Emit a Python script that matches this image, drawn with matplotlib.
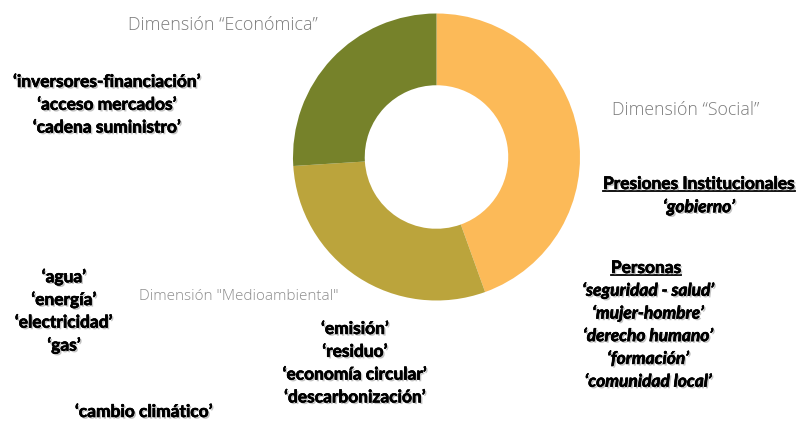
import matplotlib
matplotlib.use("Agg")
import matplotlib.pyplot as plt
import matplotlib.patheffects as pe
from matplotlib.lines import Line2D

# Donut shares (clockwise from 12 o'clock)
dimensions = ["Social", "Medioambiental", "Económica"]
shares = [44.5, 29.5, 26.0]
colors = ["#FCBA58", "#BBA43C", "#76822A"]

# Dimension captions
dim_labels = ["Dimensión “Económica”", "Dimensión “Social”", "Dimensión \"Medioambiental\""]

# Keyword groups
economica = ["‘inversores-financiación’", "‘acceso mercados’", "‘cadena suministro’"]
institucional_title = "Presiones Institucionales"
institucional = ["‘gobierno’"]
personas_title = "Personas"
personas = ["‘seguridad - salud’", "‘mujer-hombre’", "‘derecho humano’",
            "‘formación’", "‘comunidad local’"]
recursos = ["‘agua’", "‘energía’", "‘electricidad’", "‘gas’"]
emisiones = ["‘emisión’", "‘residuo’", "‘economía circular’", "‘descarbonización’"]
clima = ["‘cambio climático’"]

W, H = 800, 423
fig = plt.figure(figsize=(W / 100, H / 100), dpi=100)
ax = fig.add_axes([0, 0, 1, 1])

cx, cy, r = 436.5, H - 157, 143.5
ax.pie(shares, colors=colors, startangle=90, counterclock=False,
       center=(cx, cy), radius=r, wedgeprops=dict(width=r * 0.5, linewidth=0))
ax.set_xlim(0, W)
ax.set_ylim(0, H)
ax.set_aspect("equal")
ax.axis("off")

# soft drop shadow plus a thin stroke to thicken the bold keywords
shadow = [pe.withSimplePatchShadow(offset=(1.2, -1.2), shadow_rgbFace="#888888", alpha=0.5),
          pe.withStroke(linewidth=0.4, foreground="black")]
bold = dict(family="Lato", weight="bold", fontsize=12.5, color="black",
            ha="center", va="center", path_effects=shadow)
gray = dict(family="Open Sans", weight="light", color="#7d7d7d", ha="center", va="center")

def block(lines, x, y0, step=22.8, style="normal"):
    for i, s in enumerate(lines):
        ax.text(x, H - (y0 + i * step), s, style=style, **bold)

def underlined(s, x, y):
    t = ax.text(x, H - y, s, **bold)
    fig.canvas.draw()
    bb = t.get_window_extent().transformed(ax.transData.inverted())
    ax.add_line(Line2D([bb.x0, bb.x1], [bb.y0 + 1, bb.y0 + 1], color="black", lw=1.3))

ax.text(223, H - 25, dim_labels[0], fontsize=12.9, **gray)
ax.text(686, H - 110, dim_labels[1], fontsize=12.8, **gray)
ax.text(238.5, H - 296, dim_labels[2], fontsize=11, color="#8d8d8d",
        family="Open Sans", weight="light", ha="center", va="center")

block(economica, 107, 82)
underlined(institucional_title, 699, 184)
block(institucional, 699, 207, style="italic")
underlined(personas_title, 646, 268)
block(personas, 648, 290.5, style="italic")
block(recursos, 64, 277)
block(emisiones, 355, 329)
block(clima, 144, 412)

fig.savefig("out.png", dpi=100, facecolor="white")
